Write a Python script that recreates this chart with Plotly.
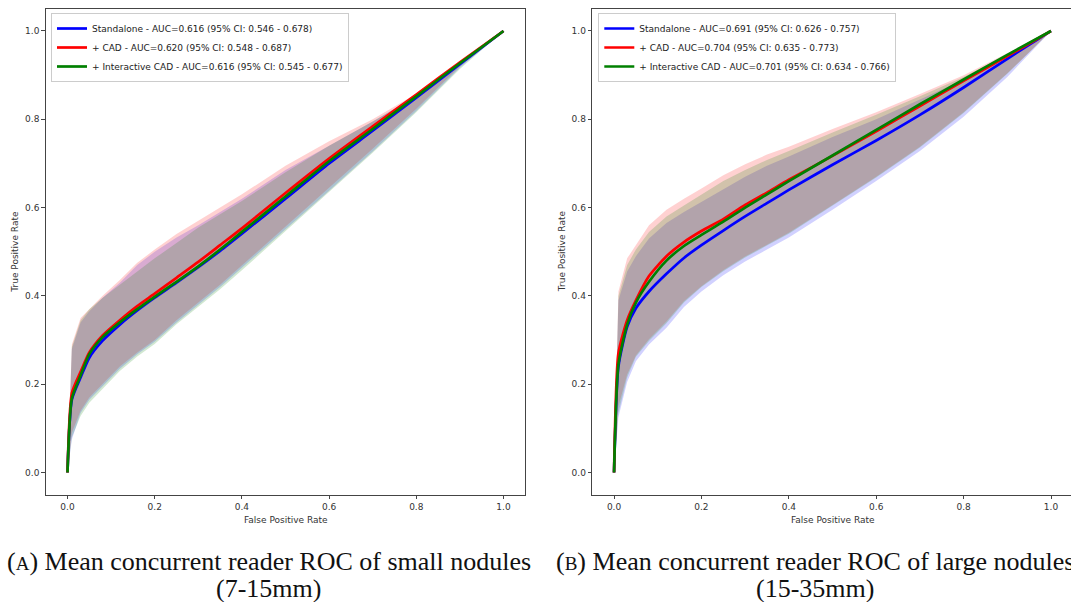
import plotly.graph_objects as go

# Shared false-positive-rate grid for all mean ROC curves
fpr = [0, 0.01, 0.03, 0.05, 0.08, 0.12, 0.16, 0.2, 0.25, 0.3, 0.35, 0.4,
       0.5, 0.6, 0.7, 0.8, 0.9, 1.0]

series_names = ["Standalone", "+ CAD", "+ Interactive CAD"]
series_colors = ["#0000ff", "#ff0000", "#008000"]
fill_colors = ["rgba(0,0,255,0.18)", "rgba(255,0,0,0.18)", "rgba(0,128,0,0.18)"]

# ---- Small nodules (7-15mm) ----
small_auc = ["0.616 (95% CI: 0.546 - 0.678)",
             "0.620 (95% CI: 0.548 - 0.687)",
             "0.616 (95% CI: 0.545 - 0.677)"]
small_std_tpr = [0, 0.165, 0.215, 0.26, 0.298, 0.335, 0.367, 0.396, 0.43, 0.465,
                 0.502, 0.541, 0.62, 0.7, 0.774, 0.849, 0.925, 1.0]
small_cad_tpr = [0, 0.18, 0.228, 0.272, 0.31, 0.345, 0.377, 0.405, 0.441, 0.477,
                 0.515, 0.553, 0.633, 0.711, 0.784, 0.856, 0.929, 1.0]
small_icad_tpr = [0, 0.168, 0.22, 0.268, 0.306, 0.34, 0.37, 0.398, 0.432, 0.467,
                  0.505, 0.545, 0.625, 0.705, 0.778, 0.852, 0.927, 1.0]
small_std_upper = [0, 0.28, 0.34, 0.365, 0.395, 0.43, 0.47, 0.5, 0.532, 0.56,
                   0.59, 0.62, 0.685, 0.74, 0.795, 0.852, 0.922, 1.0]
small_cad_upper = [0, 0.29, 0.35, 0.37, 0.4, 0.436, 0.475, 0.505, 0.54, 0.57,
                   0.6, 0.63, 0.695, 0.75, 0.8, 0.858, 0.927, 1.0]
small_icad_upper = [0, 0.285, 0.345, 0.37, 0.395, 0.425, 0.455, 0.485, 0.52, 0.555,
                    0.585, 0.615, 0.68, 0.74, 0.795, 0.853, 0.924, 1.0]
small_std_lower = [0, 0.075, 0.135, 0.165, 0.195, 0.235, 0.268, 0.296, 0.34, 0.38,
                   0.42, 0.462, 0.55, 0.638, 0.727, 0.819, 0.917, 1.0]
small_cad_lower = [0, 0.09, 0.14, 0.17, 0.2, 0.24, 0.272, 0.3, 0.345, 0.385,
                   0.425, 0.468, 0.556, 0.645, 0.733, 0.824, 0.92, 1.0]
small_icad_lower = [0, 0.08, 0.128, 0.158, 0.188, 0.23, 0.263, 0.291, 0.336, 0.375,
                    0.415, 0.458, 0.546, 0.635, 0.724, 0.816, 0.914, 1.0]

# ---- Large nodules (15-35mm) ----
large_auc = ["0.691 (95% CI: 0.626 - 0.757)",
             "0.704 (95% CI: 0.635 - 0.773)",
             "0.701 (95% CI: 0.634 - 0.766)"]
large_std_tpr = [0, 0.24, 0.33, 0.372, 0.41, 0.45, 0.486, 0.515, 0.548, 0.58,
                 0.61, 0.64, 0.697, 0.752, 0.81, 0.872, 0.937, 1.0]
large_cad_tpr = [0, 0.27, 0.345, 0.39, 0.445, 0.49, 0.522, 0.547, 0.574, 0.606,
                 0.634, 0.663, 0.717, 0.773, 0.83, 0.887, 0.943, 1.0]
large_icad_tpr = [0, 0.245, 0.335, 0.385, 0.432, 0.48, 0.513, 0.538, 0.568, 0.6,
                  0.63, 0.66, 0.718, 0.776, 0.834, 0.89, 0.946, 1.0]
large_std_upper = [0, 0.39, 0.455, 0.49, 0.53, 0.565, 0.59, 0.613, 0.643, 0.67,
                   0.695, 0.716, 0.76, 0.8, 0.845, 0.89, 0.944, 1.0]
large_cad_upper = [0, 0.41, 0.485, 0.515, 0.56, 0.595, 0.62, 0.643, 0.673, 0.698,
                   0.72, 0.738, 0.778, 0.816, 0.857, 0.9, 0.95, 1.0]
large_icad_upper = [0, 0.4, 0.47, 0.505, 0.545, 0.58, 0.605, 0.63, 0.66, 0.685,
                    0.708, 0.728, 0.77, 0.81, 0.852, 0.896, 0.947, 1.0]
large_std_lower = [0, 0.125, 0.205, 0.252, 0.29, 0.328, 0.375, 0.41, 0.447, 0.478,
                   0.505, 0.532, 0.595, 0.66, 0.728, 0.806, 0.896, 1.0]
large_cad_lower = [0, 0.15, 0.222, 0.265, 0.302, 0.342, 0.388, 0.422, 0.458, 0.489,
                   0.516, 0.543, 0.606, 0.67, 0.738, 0.816, 0.904, 1.0]
large_icad_lower = [0, 0.135, 0.215, 0.262, 0.298, 0.338, 0.385, 0.42, 0.456, 0.487,
                    0.514, 0.541, 0.604, 0.668, 0.736, 0.814, 0.903, 1.0]

tick_vals = [0.0, 0.2, 0.4, 0.6, 0.8, 1.0]

W, H = 1071, 602


def px(x):
    return x / W


def py(y):
    return 1 - y / H


panels = [
    dict(xa="x", ya="y", legend="legend", auc=small_auc,
         tpr=[small_std_tpr, small_cad_tpr, small_icad_tpr],
         upper=[small_std_upper, small_cad_upper, small_icad_upper],
         lower=[small_std_lower, small_cad_lower, small_icad_lower]),
    dict(xa="x2", ya="y2", legend="legend2", auc=large_auc,
         tpr=[large_std_tpr, large_cad_tpr, large_icad_tpr],
         upper=[large_std_upper, large_cad_upper, large_icad_upper],
         lower=[large_std_lower, large_cad_lower, large_icad_lower]),
]

fig = go.Figure()

for p in panels:
    # confidence bands underneath
    for i in range(3):
        fig.add_trace(go.Scatter(
            x=fpr + fpr[::-1],
            y=p["upper"][i] + p["lower"][i][::-1],
            fill="toself", fillcolor=fill_colors[i],
            line=dict(width=0), mode="lines", hoverinfo="skip",
            showlegend=False, xaxis=p["xa"], yaxis=p["ya"]))
    # mean curves on top
    for i in range(3):
        fig.add_trace(go.Scatter(
            x=fpr, y=p["tpr"][i], mode="lines",
            line=dict(color=series_colors[i], width=2.7,
                      shape="spline", smoothing=0.6),
            name=f"{series_names[i]} - AUC={p['auc'][i]}",
            legend=p["legend"], xaxis=p["xa"], yaxis=p["ya"]))

axis_common = dict(
    showgrid=False, zeroline=False, showline=True,
    linecolor="#444", linewidth=1,
    ticks="outside", ticklen=3.5, tickwidth=0.8, tickcolor="#444",
    tickvals=tick_vals, tickformat=".1f",
    tickfont=dict(family="DejaVu Sans", size=9, color="#333"),
)

y_dom = [py(494.6), py(8.9)]

legend_common = dict(
    xanchor="left", yanchor="top",
    bgcolor="rgba(255,255,255,0.8)", bordercolor="#cccccc",
    borderwidth=1, tracegroupgap=0,
    font=dict(family="DejaVu Sans", size=9, color="#222"),
)

fig.update_layout(
    width=W, height=H,
    margin=dict(l=0, r=0, t=0, b=0),
    paper_bgcolor="white", plot_bgcolor="white",
    xaxis=dict(axis_common, domain=[px(45.7), px(525.3)], range=[-0.05, 1.05],
               mirror=True, anchor="y"),
    yaxis=dict(axis_common, domain=y_dom, range=[-0.05, 1.05],
               mirror=True, anchor="x"),
    xaxis2=dict(axis_common, domain=[px(592.2), 1.0],
                range=[-0.05, (W - 614.0) / 437.0],
                mirror=True, anchor="y2"),
    yaxis2=dict(axis_common, domain=y_dom, range=[-0.05, 1.05],
                mirror=False, anchor="x2"),
    legend=dict(legend_common, x=px(51), y=py(13)),
    legend2=dict(legend_common, x=px(598.3), y=py(13)),
)

label_font = dict(family="DejaVu Sans", size=9, color="#333")
cap_font = dict(family="Liberation Serif", size=26, color="#111")

annotations = [
    dict(text="False Positive Rate", x=px(285.5), y=py(520), font=label_font),
    dict(text="False Positive Rate", x=px(833), y=py(520), font=label_font),
    dict(text="True Positive Rate", x=px(15), y=py(251.7), textangle=-90, font=label_font),
    dict(text="True Positive Rate", x=px(561.5), y=py(251.7), textangle=-90, font=label_font),
    dict(text="(<span style='font-size:19px'>A</span>) Mean concurrent reader ROC of small nodules",
         x=px(268.5), y=py(561), font=cap_font),
    dict(text="(7-15mm)", x=px(268.5), y=py(588), font=cap_font),
    dict(text="(<span style='font-size:19px'>B</span>) Mean concurrent reader ROC of large nodules",
         x=px(815), y=py(561), font=cap_font),
    dict(text="(15-35mm)", x=px(815), y=py(588), font=cap_font),
]
for a in annotations:
    a.update(xref="paper", yref="paper", showarrow=False,
             xanchor="center", yanchor="middle")
fig.update_layout(annotations=annotations)

fig.write_html("out.html")
